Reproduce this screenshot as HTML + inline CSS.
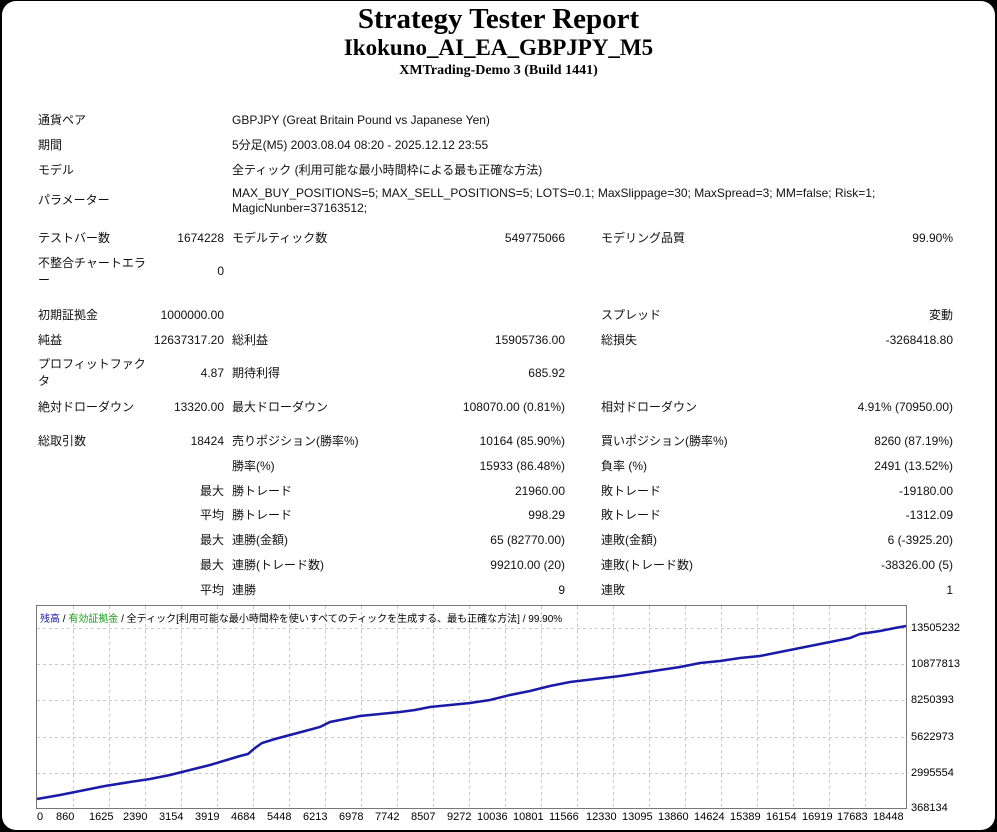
<!DOCTYPE html>
<html><head><meta charset="utf-8">
<style>
html,body{margin:0;padding:0;background:#000;width:997px;height:832px;overflow:hidden}
#pg{position:absolute;left:2px;top:1px;width:993px;height:829px;background:#fff;border-radius:14px}
.t{position:absolute;font-family:"Liberation Sans","Noto Sans CJK JP",sans-serif;font-size:12px;line-height:14px;color:#111;white-space:nowrap}
.h{position:absolute;left:0;width:997px;text-align:center;font-family:"Liberation Serif",serif;font-weight:bold;color:#000}
.ax{position:absolute;font-family:"Liberation Sans",sans-serif;font-size:11px;color:#000;white-space:nowrap}
</style></head><body>
<div id="pg"></div>
<div class="h" style="top:2px;font-size:29px;line-height:34px">Strategy Tester Report</div>
<div class="h" style="top:34px;font-size:23px;line-height:28px">Ikokuno_AI_EA_GBPJPY_M5</div>
<div class="h" style="top:63px;font-size:14px;line-height:16px">XMTrading-Demo 3 (Build 1441)</div>

<div class="t" style="left:38px;top:113px">通貨ペア</div>
<div class="t" style="left:232px;top:113px">GBPJPY (Great Britain Pound vs Japanese Yen)</div>
<div class="t" style="left:38px;top:138px">期間</div>
<div class="t" style="left:232px;top:138px">5分足(M5) 2003.08.04 08:20 - 2025.12.12 23:55</div>
<div class="t" style="left:38px;top:163px">モデル</div>
<div class="t" style="left:232px;top:163px">全ティック (利用可能な最小時間枠による最も正確な方法)</div>
<div class="t" style="left:38px;top:193px">パラメーター</div>
<div class="t" style="left:232px;top:186px">MAX_BUY_POSITIONS=5; MAX_SELL_POSITIONS=5; LOTS=0.1; MaxSlippage=30; MaxSpread=3; MM=false; Risk=1;</div>
<div class="t" style="left:232px;top:201px">MagicNunber=37163512;</div>

<div class="t" style="left:38px;top:231px">テストバー数</div>
<div class="t" style="right:773px;top:231px">1674228</div>
<div class="t" style="left:232px;top:231px">モデルティック数</div>
<div class="t" style="right:432px;top:231px">549775066</div>
<div class="t" style="left:601px;top:231px">モデリング品質</div>
<div class="t" style="right:44px;top:231px">99.90%</div>

<div class="t" style="left:38px;top:256px">不整合チャートエラ</div>
<div class="t" style="left:38px;top:273px">ー</div>
<div class="t" style="right:773px;top:264px">0</div>

<div class="t" style="left:38px;top:308px">初期証拠金</div>
<div class="t" style="right:773px;top:308px">1000000.00</div>
<div class="t" style="left:601px;top:308px">スプレッド</div>
<div class="t" style="right:44px;top:308px">変動</div>

<div class="t" style="left:38px;top:333px">純益</div>
<div class="t" style="right:773px;top:333px">12637317.20</div>
<div class="t" style="left:232px;top:333px">総利益</div>
<div class="t" style="right:432px;top:333px">15905736.00</div>
<div class="t" style="left:601px;top:333px">総損失</div>
<div class="t" style="right:44px;top:333px">-3268418.80</div>

<div class="t" style="left:38px;top:357px">プロフィットファク</div>
<div class="t" style="left:38px;top:374px">タ</div>
<div class="t" style="right:773px;top:366px">4.87</div>
<div class="t" style="left:232px;top:366px">期待利得</div>
<div class="t" style="right:432px;top:366px">685.92</div>

<div class="t" style="left:38px;top:400px">絶対ドローダウン</div>
<div class="t" style="right:773px;top:400px">13320.00</div>
<div class="t" style="left:232px;top:400px">最大ドローダウン</div>
<div class="t" style="right:432px;top:400px">108070.00 (0.81%)</div>
<div class="t" style="left:601px;top:400px">相対ドローダウン</div>
<div class="t" style="right:44px;top:400px">4.91% (70950.00)</div>

<div class="t" style="left:38px;top:434px">総取引数</div>
<div class="t" style="right:773px;top:434px">18424</div>
<div class="t" style="left:232px;top:434px">売りポジション(勝率%)</div>
<div class="t" style="right:432px;top:434px">10164 (85.90%)</div>
<div class="t" style="left:601px;top:434px">買いポジション(勝率%)</div>
<div class="t" style="right:44px;top:434px">8260 (87.19%)</div>

<div class="t" style="left:232px;top:459px">勝率(%)</div>
<div class="t" style="right:432px;top:459px">15933 (86.48%)</div>
<div class="t" style="left:601px;top:459px">負率 (%)</div>
<div class="t" style="right:44px;top:459px">2491 (13.52%)</div>

<div class="t" style="right:773px;top:484px">最大</div>
<div class="t" style="left:232px;top:484px">勝トレード</div>
<div class="t" style="right:432px;top:484px">21960.00</div>
<div class="t" style="left:601px;top:484px">敗トレード</div>
<div class="t" style="right:44px;top:484px">-19180.00</div>

<div class="t" style="right:773px;top:508px">平均</div>
<div class="t" style="left:232px;top:508px">勝トレード</div>
<div class="t" style="right:432px;top:508px">998.29</div>
<div class="t" style="left:601px;top:508px">敗トレード</div>
<div class="t" style="right:44px;top:508px">-1312.09</div>

<div class="t" style="right:773px;top:533px">最大</div>
<div class="t" style="left:232px;top:533px">連勝(金額)</div>
<div class="t" style="right:432px;top:533px">65 (82770.00)</div>
<div class="t" style="left:601px;top:533px">連敗(金額)</div>
<div class="t" style="right:44px;top:533px">6 (-3925.20)</div>

<div class="t" style="right:773px;top:558px">最大</div>
<div class="t" style="left:232px;top:558px">連勝(トレード数)</div>
<div class="t" style="right:432px;top:558px">99210.00 (20)</div>
<div class="t" style="left:601px;top:558px">連敗(トレード数)</div>
<div class="t" style="right:44px;top:558px">-38326.00 (5)</div>

<div class="t" style="right:773px;top:583px">平均</div>
<div class="t" style="left:232px;top:583px">連勝</div>
<div class="t" style="right:432px;top:583px">9</div>
<div class="t" style="left:601px;top:583px">連敗</div>
<div class="t" style="right:44px;top:583px">1</div>

<svg style="position:absolute;left:0;top:0" width="997" height="832">
<g stroke="#c8c8c8" stroke-dasharray="3,3" stroke-width="1">
<line x1="37" y1="628.5" x2="906" y2="628.5"/><line x1="37" y1="664.5" x2="906" y2="664.5"/>
<line x1="37" y1="700.5" x2="906" y2="700.5"/><line x1="37" y1="737.5" x2="906" y2="737.5"/>
<line x1="37" y1="773.5" x2="906" y2="773.5"/>
<line x1="73.5" y1="606" x2="73.5" y2="808"/><line x1="109.5" y1="606" x2="109.5" y2="808"/>
<line x1="145.5" y1="606" x2="145.5" y2="808"/><line x1="181.5" y1="606" x2="181.5" y2="808"/>
<line x1="217.5" y1="606" x2="217.5" y2="808"/><line x1="253.5" y1="606" x2="253.5" y2="808"/>
<line x1="289.5" y1="606" x2="289.5" y2="808"/><line x1="325.5" y1="606" x2="325.5" y2="808"/>
<line x1="361.5" y1="606" x2="361.5" y2="808"/><line x1="397.5" y1="606" x2="397.5" y2="808"/>
<line x1="433.5" y1="606" x2="433.5" y2="808"/><line x1="469.5" y1="606" x2="469.5" y2="808"/>
<line x1="505.5" y1="606" x2="505.5" y2="808"/><line x1="541.5" y1="606" x2="541.5" y2="808"/>
<line x1="577.5" y1="606" x2="577.5" y2="808"/><line x1="613.5" y1="606" x2="613.5" y2="808"/>
<line x1="649.5" y1="606" x2="649.5" y2="808"/><line x1="685.5" y1="606" x2="685.5" y2="808"/>
<line x1="721.5" y1="606" x2="721.5" y2="808"/><line x1="757.5" y1="606" x2="757.5" y2="808"/>
<line x1="793.5" y1="606" x2="793.5" y2="808"/><line x1="829.5" y1="606" x2="829.5" y2="808"/>
<line x1="865.5" y1="606" x2="865.5" y2="808"/>
</g>
<rect x="36.5" y="605.5" width="870" height="203" fill="none" stroke="#777" stroke-width="1"/>
<polyline fill="none" stroke="#1a1aa8" stroke-width="2.5" points="37,799 60,795 80,791 105,786 130,782 150,779 170,775 190,770 210,765 230,759 240,756 248,754 255,748 262,743 275,739 290,735 305,731 320,727 330,722 345,719 360,716 380,714 400,712 415,710 430,707 450,705 470,703 490,700 510,695 530,691 550,686 570,682 595,679 620,676 640,673 660,670 680,667 700,663 720,661 740,658 760,656 775,653 790,650 805,647 825,643 850,638 860,634 880,631 895,628 906,626"/>
</svg>
<div class="ax" style="left:40px;top:610px;font-size:10px"><span style="color:#1a1aa8">残高</span> / <span style="color:#18a018">有効証拠金</span> / 全ティック[利用可能な最小時間枠を使いすべてのティックを生成する、最も正確な方法] / 99.90%</div>
<div class="ax" style="left:911px;top:622px">13505232</div>
<div class="ax" style="left:911px;top:658px">10877813</div>
<div class="ax" style="left:911px;top:694px">8250393</div>
<div class="ax" style="left:911px;top:731px">5622973</div>
<div class="ax" style="left:911px;top:767px">2995554</div>
<div class="ax" style="left:911px;top:802px">368134</div>
<div class="ax" style="left:37px;top:811px">0</div>
<div class="ax" style="left:56px;top:811px">860</div>
<div class="ax" style="left:89px;top:811px">1625</div>
<div class="ax" style="left:123px;top:811px">2390</div>
<div class="ax" style="left:159px;top:811px">3154</div>
<div class="ax" style="left:195px;top:811px">3919</div>
<div class="ax" style="left:231px;top:811px">4684</div>
<div class="ax" style="left:267px;top:811px">5448</div>
<div class="ax" style="left:303px;top:811px">6213</div>
<div class="ax" style="left:339px;top:811px">6978</div>
<div class="ax" style="left:375px;top:811px">7742</div>
<div class="ax" style="left:411px;top:811px">8507</div>
<div class="ax" style="left:447px;top:811px">9272</div>
<div class="ax" style="left:477px;top:811px">10036</div>
<div class="ax" style="left:513px;top:811px">10801</div>
<div class="ax" style="left:549px;top:811px">11566</div>
<div class="ax" style="left:586px;top:811px">12330</div>
<div class="ax" style="left:622px;top:811px">13095</div>
<div class="ax" style="left:658px;top:811px">13860</div>
<div class="ax" style="left:694px;top:811px">14624</div>
<div class="ax" style="left:730px;top:811px">15389</div>
<div class="ax" style="left:766px;top:811px">16154</div>
<div class="ax" style="left:802px;top:811px">16919</div>
<div class="ax" style="left:837px;top:811px">17683</div>
<div class="ax" style="left:873px;top:811px">18448</div>
</body></html>
